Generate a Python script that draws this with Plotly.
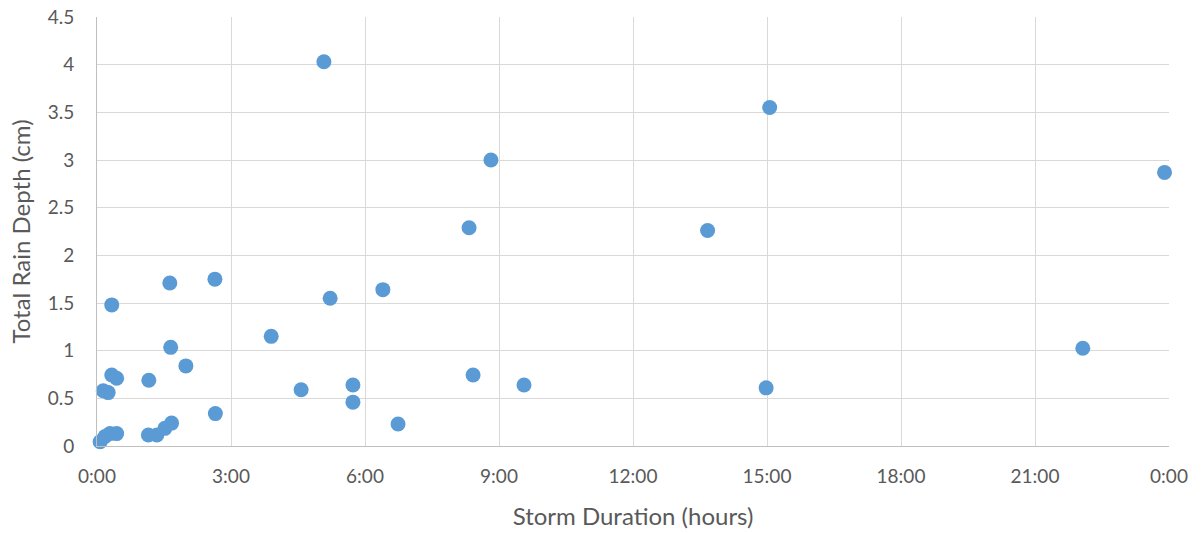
import plotly.graph_objects as go

# Storm duration (hours) and total rain depth (cm)
duration_hours = [5.08, 15.06, 8.82, 23.90, 8.33, 13.67, 2.64, 1.63, 6.40, 5.22,
                  0.33, 3.90, 1.65, 22.07, 1.99, 8.42, 0.33, 0.44, 1.16, 5.73,
                  9.56, 14.98, 0.14, 0.25, 4.57, 5.73, 2.65, 6.74,
                  1.15, 1.34, 1.52, 1.67,
                  0.07, 0.18, 0.29, 0.44]
rain_depth_cm = [4.03, 3.55, 3.00, 2.87, 2.29, 2.26, 1.75, 1.71, 1.64, 1.55,
                 1.48, 1.15, 1.035, 1.025, 0.84, 0.745, 0.745, 0.71, 0.69, 0.64,
                 0.64, 0.61, 0.58, 0.56, 0.59, 0.46, 0.34, 0.23,
                 0.115, 0.115, 0.185, 0.24,
                 0.045, 0.10, 0.13, 0.13]

x_tickvals = [0, 3, 6, 9, 12, 15, 18, 21, 24]
x_ticktext = ["0:00", "3:00", "6:00", "9:00", "12:00", "15:00", "18:00", "21:00", "0:00"]
y_tickvals = [0, 0.5, 1, 1.5, 2, 2.5, 3, 3.5, 4, 4.5]
y_ticktext = ["0", "0.5", "1", "1.5", "2", "2.5", "3", "3.5", "4", "4.5"]

fig = go.Figure(
    go.Scatter(
        x=duration_hours,
        y=rain_depth_cm,
        mode="markers",
        marker=dict(size=15, color="#5B9BD5", line=dict(width=0)),
        cliponaxis=False,
    )
)

font_family = "Lato, 'Open Sans', sans-serif"
text_grey = "#595959"
fig.update_layout(
    width=1202,
    height=533,
    margin=dict(l=97, r=33, t=17, b=87),
    paper_bgcolor="white",
    plot_bgcolor="white",
    showlegend=False,
    font=dict(family=font_family, color=text_grey, size=19),
)
fig.update_xaxes(
    range=[0, 24],
    tickvals=x_tickvals,
    ticktext=x_ticktext,
    automargin=False,
    showgrid=True,
    gridcolor="#D9D9D9",
    gridwidth=1,
    showline=True,
    linecolor="#BFBFBF",
    linewidth=1,
    zeroline=False,
    ticks="",
    ticklabelstandoff=13,
    tickfont=dict(size=19, color=text_grey),
    title=dict(text="Storm Duration (hours)", font=dict(size=24, color=text_grey), standoff=22),
)
fig.update_yaxes(
    range=[0, 4.5],
    tickvals=y_tickvals,
    ticktext=y_ticktext,
    automargin=False,
    showgrid=True,
    gridcolor="#D9D9D9",
    gridwidth=1,
    showline=True,
    linecolor="#BFBFBF",
    linewidth=1,
    zeroline=False,
    ticks="",
    ticklabelstandoff=18,
    tickfont=dict(size=19, color=text_grey),
    title=dict(text="Total Rain Depth (cm)", font=dict(size=24, color=text_grey), standoff=10),
)

fig.write_html("out.html")
